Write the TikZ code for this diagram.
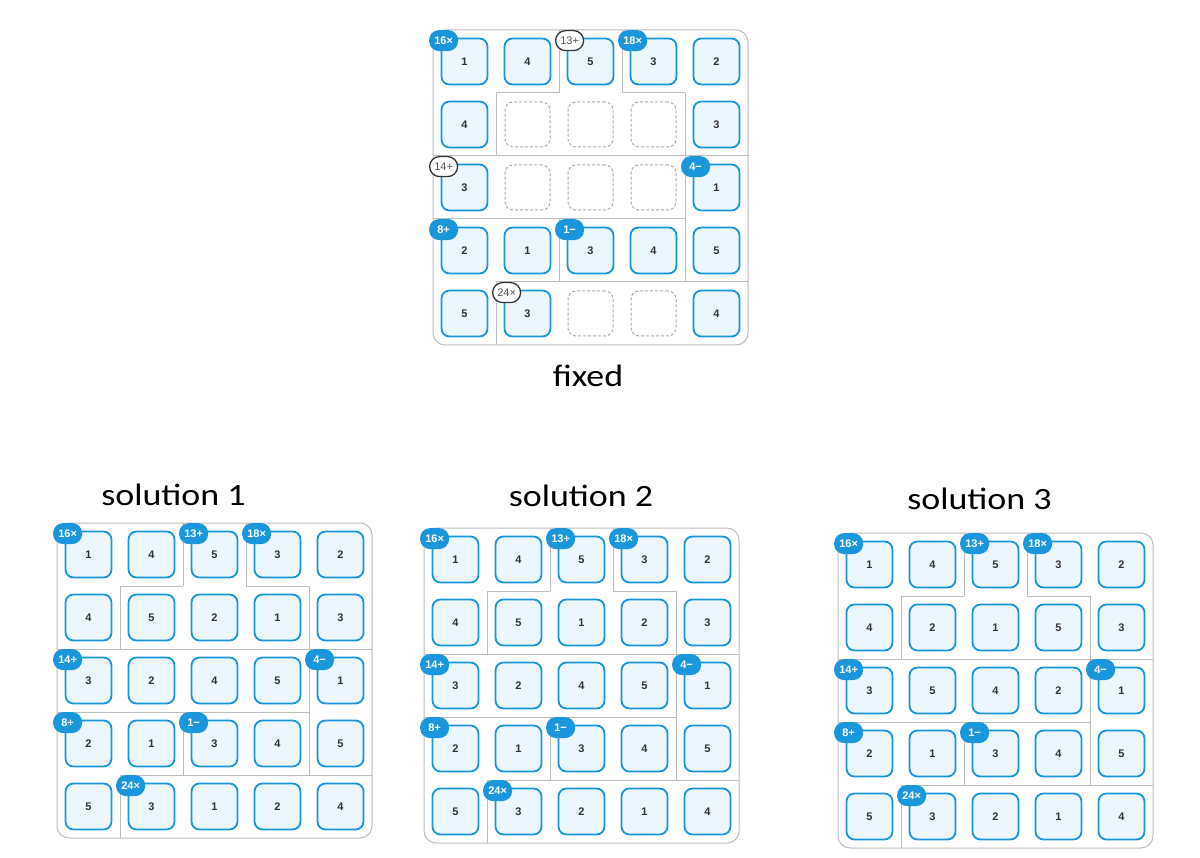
\documentclass[tikz,border=0pt]{standalone}
\usepackage{fontspec}
\setmainfont{Liberation Sans}
\newfontfamily\labelfont{Carlito}
\usetikzlibrary{calc}
\definecolor{kblue}{HTML}{1A96DC}
\definecolor{kfill}{HTML}{EBF6FD}
\definecolor{kcage}{HTML}{BDBDBD}
\definecolor{kdash}{HTML}{ABABAB}
\definecolor{kdark}{HTML}{333333}
\definecolor{kgraytext}{HTML}{555555}
\tikzset{
 cageline/.style={draw=kcage, line width=1pt},
 tilebox/.style={draw=kblue, line width=1.8pt, fill=kfill, rounded corners=8pt, minimum size=46pt, inner sep=0pt, font=\bfseries\fontsize{11}{11}\selectfont, text=kdark},
 emptybox/.style={draw=kdash, line width=1pt, dash pattern=on 3pt off 2pt, rounded corners=8pt, minimum size=45pt, inner sep=0pt},
 bbadge/.style={fill=kblue, text=white, rounded corners=10pt, minimum width=29pt, minimum height=21pt, inner sep=0pt, font=\bfseries\fontsize{11}{11}\selectfont},
 wbadge/.style={fill=white, draw=kdark, line width=1.3pt, text=kgraytext, rounded corners=10pt, minimum width=28pt, minimum height=20pt, inner sep=0pt, font=\fontsize{11}{11}\selectfont},
 title/.style={font=\labelfont\fontsize{31}{31}\selectfont, anchor=base, inner sep=0pt},
}
\newcommand{\kengrid}[5]{%
 \begin{scope}[shift={(#2,#3)}, scale=63]
   \draw[cageline, rounded corners=12pt] (0,0) rectangle (5,5);
   \draw[cageline] (2,0)--(2,1) (3,0)--(3,1) (1,1)--(2,1) (3,1)--(4,1)
     (1,1)--(1,2) (4,1)--(4,2) (0,2)--(5,2) (4,2)--(4,4) (0,3)--(4,3)
     (2,3)--(2,4) (1,4)--(5,4) (1,4)--(1,5);
   \foreach \v [count=\i from 0] in {#4} {
     \pgfmathtruncatemacro\kr{\i/5}
     \pgfmathtruncatemacro\kc{mod(\i,5)}
     \ifnum\v=0
       \node[emptybox] (#1-\kr-\kc) at (\kc+0.5,\kr+0.5) {};
     \else
       \node[tilebox] (#1-\kr-\kc) at (\kc+0.5,\kr+0.5) {\v};
     \fi
   }
 \end{scope}
 \node[bbadge] (#1-ba) at ([shift={(3,3)}]#1-0-0.north west) {16×};
 \node[#5] (#1-bb) at ([shift={(3,3)}]#1-0-2.north west) {13+};
 \node[bbadge] (#1-bc) at ([shift={(3,3)}]#1-0-3.north west) {18×};
 \node[#5] (#1-bd) at ([shift={(3,3)}]#1-2-0.north west) {14+};
 \node[bbadge] (#1-be) at ([shift={(3,3)}]#1-2-4.north west) {4−};
 \node[bbadge] (#1-bf) at ([shift={(3,3)}]#1-3-0.north west) {8+};
 \node[bbadge] (#1-bg) at ([shift={(3,3)}]#1-3-2.north west) {1−};
 \node[#5] (#1-bh) at ([shift={(3,3)}]#1-4-1.north west) {24×};
}
\begin{document}
\begin{tikzpicture}[x=1pt,y=-1pt]
\useasboundingbox (0,0) rectangle (1200,858);
\fill[white] (0,0) rectangle (1200,858);
\kengrid{g0}{433}{30}{1,4,5,3,2,4,0,0,0,3,3,0,0,0,1,2,1,3,4,5,5,3,0,0,4}{wbadge}
\kengrid{g1}{57}{523}{1,4,5,3,2,4,5,2,1,3,3,2,4,5,1,2,1,3,4,5,5,3,1,2,4}{bbadge}
\kengrid{g2}{424}{528}{1,4,5,3,2,4,5,1,2,3,3,2,4,5,1,2,1,3,4,5,5,3,2,1,4}{bbadge}
\kengrid{g3}{838}{533}{1,4,5,3,2,4,2,1,5,3,3,5,4,2,1,2,1,3,4,5,5,3,2,1,4}{bbadge}
\node[title] (lfixed) at (588,387) {\scalebox{1.16}[1]{fixed}};
\node[title] (lsol1) at (173.5,505) {\scalebox{1.16}[1]{solution 1}};
\node[title] (lsol2) at (581,506) {\scalebox{1.16}[1]{solution 2}};
\node[title] (lsol3) at (979.5,509) {\scalebox{1.16}[1]{solution 3}};
\end{tikzpicture}
\end{document}
